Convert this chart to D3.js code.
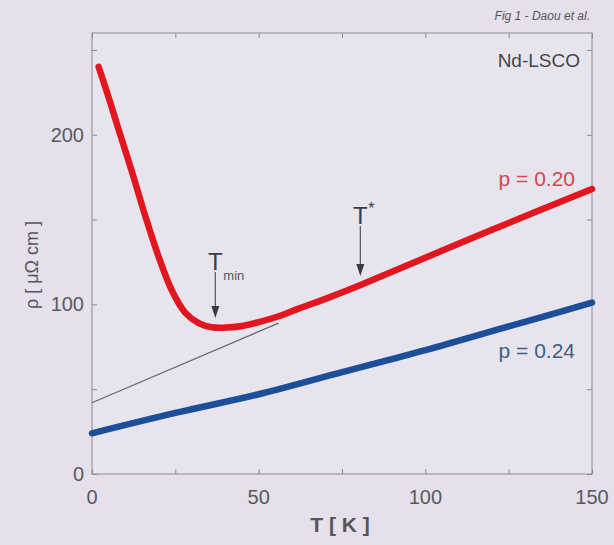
<!DOCTYPE html>
<html>
<head>
<meta charset="utf-8">
<title>Nd-LSCO resistivity</title>
<script src="https://cdn.jsdelivr.net/npm/d3@7"></script>
<style>
  body { margin: 0; background: #e5e0eb; }
  svg { display: block; font-family: "Liberation Sans", Arial, sans-serif; }
</style>
</head>
<body>
<div id="chart"></div>
<script>
// data: T [K], rho [uOhm cm]
var p20_T   = [2, 5, 8, 12, 16, 20, 24, 28, 32, 36, 40, 45, 50, 56, 62, 71, 80, 100, 120, 150];
var p20_rho = [240, 222, 203, 178, 152, 128, 108, 95, 89, 86.5, 86.3, 87.3, 89.5, 93, 97.5, 104, 111, 127.5, 144, 168];
var p24_T   = [0, 25, 50, 75, 100, 125, 150];
var p24_rho = [24, 36, 47, 60, 73, 87, 101];
var fit_T   = [0, 56];
var fit_rho = [42, 89];
var xTicks  = [0, 50, 100, 150];
var yTicks  = [0, 100, 200];
var xMinor  = [0, 25, 50, 75, 100, 125, 150];
var yMinor  = [0, 50, 100, 150, 200, 250];

var W = 614, H = 545;
var margin = {left: 92, right: 22, top: 33, bottom: 71};

var svg = d3.select("#chart").append("svg")
    .attr("width", W).attr("height", H);

var x = d3.scaleLinear().domain([0, 150]).range([margin.left, W - margin.right]);
var y = d3.scaleLinear().domain([0, 260]).range([H - margin.bottom, margin.top]);

// frame
svg.append("rect")
    .attr("x", x(0)).attr("y", y(260))
    .attr("width", x(150) - x(0)).attr("height", y(0) - y(260))
    .attr("fill", "#e8e4ee").attr("stroke", "#8a8a94").attr("stroke-width", 1);

// inward ticks on all four sides
var tk = 5;
svg.append("g").attr("transform", "translate(0," + y(0) + ")")
    .call(d3.axisBottom(x).tickValues(xMinor).tickSizeInner(-tk).tickSizeOuter(0).tickFormat(""))
    .call(g => g.select(".domain").remove());
svg.append("g").attr("transform", "translate(0," + y(260) + ")")
    .call(d3.axisTop(x).tickValues(xMinor).tickSizeInner(-tk).tickSizeOuter(0).tickFormat(""))
    .call(g => g.select(".domain").remove());
svg.append("g").attr("transform", "translate(" + x(0) + ",0)")
    .call(d3.axisLeft(y).tickValues(yMinor).tickSizeInner(-tk).tickSizeOuter(0).tickFormat(""))
    .call(g => g.select(".domain").remove());
svg.append("g").attr("transform", "translate(" + x(150) + ",0)")
    .call(d3.axisRight(y).tickValues(yMinor).tickSizeInner(-tk).tickSizeOuter(0).tickFormat(""))
    .call(g => g.select(".domain").remove());
svg.selectAll(".tick line").attr("stroke", "#8a8a94");

// tick labels
svg.selectAll(".xlab").data(xTicks).enter().append("text")
    .attr("x", d => x(d)).attr("y", y(0) + 30)
    .attr("text-anchor", "middle").attr("font-size", 20).attr("fill", "#5a5a5e")
    .text(d => d);
svg.selectAll(".ylab").data(yTicks).enter().append("text")
    .attr("x", x(0) - 8).attr("y", d => y(d) + 7)
    .attr("text-anchor", "end").attr("font-size", 20).attr("fill", "#5a5a5e")
    .text(d => d);

// axis titles
svg.append("text")
    .attr("x", 340).attr("y", 532)
    .attr("text-anchor", "middle").attr("font-size", 21).attr("font-weight", "bold")
    .attr("fill", "#55555a").text("T [ K ]");
svg.append("text")
    .attr("transform", "translate(38," + 265 + ") rotate(-90)")
    .attr("text-anchor", "middle").attr("font-size", 18)
    .attr("fill", "#55555a").text("ρ [ μΩ cm ]");

var line = d3.line().x(d => x(d[0])).y(d => y(d[1])).curve(d3.curveCatmullRom.alpha(0.5));

// linear fit guide
svg.append("path")
    .datum(d3.zip(fit_T, fit_rho))
    .attr("d", line).attr("fill", "none")
    .attr("stroke", "#6a6a70").attr("stroke-width", 1.3);

svg.append("path")
    .datum(d3.zip(p24_T, p24_rho))
    .attr("d", line).attr("fill", "none")
    .attr("stroke", "#1c4e9a").attr("stroke-width", 6.5).attr("stroke-linecap", "round");

svg.append("path")
    .datum(d3.zip(p20_T, p20_rho))
    .attr("d", line).attr("fill", "none")
    .attr("stroke", "#e2161f").attr("stroke-width", 6.5).attr("stroke-linecap", "round")
    .attr("stroke-linejoin", "round");

// arrows (Tmin, T*)
var arrows = [
  {T: 37, top: 272, tip: 318, lab: "T", sub: "min"},
  {T: 80.5, top: 226, tip: 276, lab: "T", sup: "*"}
];
arrows.forEach(function(a) {
  var ax = x(a.T);
  svg.append("line")
      .attr("x1", ax).attr("x2", ax).attr("y1", a.top).attr("y2", a.tip - 8)
      .attr("stroke", "#55555a").attr("stroke-width", 1.2);
  svg.append("path")
      .attr("d", "M" + (ax - 4) + "," + (a.tip - 12) + "L" + (ax + 4) + "," + (a.tip - 12) + "L" + ax + "," + a.tip + "Z")
      .attr("fill", "#3a3a40");
  svg.append("text")
      .attr("x", ax).attr("y", a.top - 2)
      .attr("text-anchor", "middle").attr("font-size", 24).attr("fill", "#3a3a40")
      .text(a.lab);
  if (a.sub) svg.append("text")
      .attr("x", ax + 8).attr("y", a.top + 8)
      .attr("font-size", 13).attr("fill", "#5a5a5e").text(a.sub);
  if (a.sup) svg.append("text")
      .attr("x", ax + 8).attr("y", a.top - 12)
      .attr("font-size", 16).attr("fill", "#3a3a40").text(a.sup);
});

// series labels
svg.append("text").attr("x", 575).attr("y", 186)
    .attr("text-anchor", "end").attr("font-size", 21).attr("fill", "#d0484c").text("p = 0.20");
svg.append("text").attr("x", 575).attr("y", 358)
    .attr("text-anchor", "end").attr("font-size", 21).attr("fill", "#3f5f80").text("p = 0.24");

svg.append("text").attr("x", 580).attr("y", 67)
    .attr("text-anchor", "end").attr("font-size", 19).attr("fill", "#444448").text("Nd-LSCO");
svg.append("text").attr("x", 590).attr("y", 20)
    .attr("text-anchor", "end").attr("font-size", 12).attr("font-style", "italic")
    .attr("fill", "#55555a").text("Fig 1 - Daou et al.");
</script>
</body>
</html>
